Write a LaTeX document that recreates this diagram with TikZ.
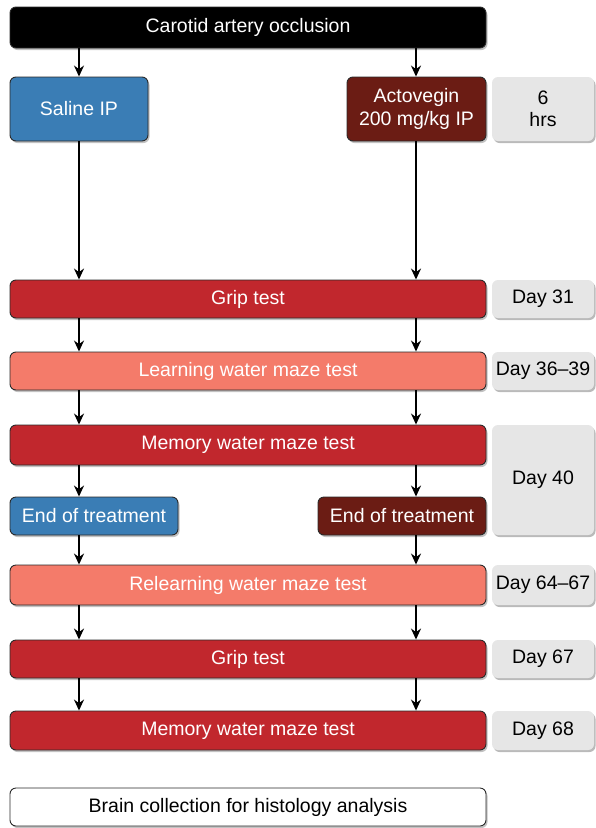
\documentclass[tikz,border=0pt]{standalone}
\usepackage{fontspec}
\setmainfont{Liberation Sans}
\usetikzlibrary{shadows,arrows.meta}
\definecolor{cblue}{HTML}{3A7DB5}
\definecolor{cbrown}{HTML}{6B1C14}
\definecolor{cred}{HTML}{C1272D}
\definecolor{csalmon}{HTML}{F47B6A}
\definecolor{cgray}{HTML}{E6E6E6}
\definecolor{cedge}{HTML}{2A2A2A}
\tikzset{
  box/.style={draw=cedge, line width=0.9pt, rounded corners=6pt, inner sep=0pt,
    font=\fontsize{19.5}{22.5}\selectfont, align=center,
    drop shadow={shadow xshift=1.5pt, shadow yshift=-2pt, opacity=0.4, fill=black!60}},
  wbox/.style={box, text=white},
  graybox/.style={rounded corners=6pt, fill=cgray, inner sep=0pt,
    font=\fontsize{19.5}{22.5}\selectfont, align=center,
    drop shadow={shadow xshift=1.5pt, shadow yshift=-2pt, opacity=0.45, fill=black!60}},
  arr/.style={-{Stealth[length=11pt,width=10pt]}, line width=1.8pt, black}
}
\begin{document}
\begin{tikzpicture}[x=1pt,y=1pt]
\useasboundingbox (0,0) rectangle (595,-828);
\coordinate (L) at (79,0);
\coordinate (R) at (416,0);
% boxes
\node[wbox, fill=black, minimum width=476pt, minimum height=41pt] (top) at (248,-27.5) {Carotid artery occlusion};
\node[wbox, fill=cblue, minimum width=138pt, minimum height=64pt] (sal) at (79,-109) {Saline IP};
\node[wbox, fill=cbrown, minimum width=139pt, minimum height=64pt] (act) at (416.5,-109) {Actovegin\\200 mg/kg IP};
\node[graybox, minimum width=102pt, minimum height=64pt] (hrs) at (543,-109) {6\\hrs};

\node[wbox, fill=cred, minimum width=476pt, minimum height=38pt] (grip) at (248,-299) {Grip test};
\node[graybox, minimum width=102pt, minimum height=38pt] (d31) at (543,-299) {Day 31};

\node[wbox, fill=csalmon, minimum width=476pt, minimum height=38pt] (learn) at (248,-371) {Learning water maze test};
\node[graybox, minimum width=102pt, minimum height=38pt] (d36) at (543,-371) {Day 36–39};

\node[wbox, fill=cred, minimum width=476pt, minimum height=40pt] (mem) at (248,-445) {Memory water maze test};
\node[wbox, fill=cblue, minimum width=168pt, minimum height=38pt] (endb) at (94,-516) {End of treatment};
\node[wbox, fill=cbrown, minimum width=168pt, minimum height=38pt] (endr) at (402,-516) {End of treatment};
\node[graybox, minimum width=102pt, minimum height=110pt] (d40) at (543,-480) {Day 40};

\node[wbox, fill=csalmon, minimum width=476pt, minimum height=40pt] (relearn) at (248,-585) {Relearning water maze test};
\node[graybox, minimum width=102pt, minimum height=40pt] (d64) at (543,-585) {Day 64–67};

\node[wbox, fill=cred, minimum width=476pt, minimum height=38pt] (grip2) at (248,-659) {Grip test};
\node[graybox, minimum width=102pt, minimum height=38pt] (d67) at (543,-659) {Day 67};

\node[wbox, fill=cred, minimum width=476pt, minimum height=39pt] (mem2) at (248,-730.5) {Memory water maze test};
\node[graybox, minimum width=102pt, minimum height=39pt] (d68) at (543,-730.5) {Day 68};

\node[box, fill=white, minimum width=476pt, minimum height=38pt] (brain) at (248,-807) {Brain collection for histology analysis};

% arrows
\draw[arr] (L |- top.south) -- (L |- sal.north);
\draw[arr] (R |- top.south) -- (R |- act.north);
\draw[arr] (L |- sal.south) -- (L |- grip.north);
\draw[arr] (R |- act.south) -- (R |- grip.north);
\draw[arr] (L |- grip.south) -- (L |- learn.north);
\draw[arr] (R |- grip.south) -- (R |- learn.north);
\draw[arr] (L |- learn.south) -- (L |- mem.north);
\draw[arr] (R |- learn.south) -- (R |- mem.north);
\draw[arr] (L |- mem.south) -- (L |- endb.north);
\draw[arr] (R |- mem.south) -- (R |- endr.north);
\draw[arr] (L |- endb.south) -- (L |- relearn.north);
\draw[arr] (R |- endr.south) -- (R |- relearn.north);
\draw[arr] (L |- relearn.south) -- (L |- grip2.north);
\draw[arr] (R |- relearn.south) -- (R |- grip2.north);
\draw[arr] (L |- grip2.south) -- (L |- mem2.north);
\draw[arr] (R |- grip2.south) -- (R |- mem2.north);
\end{tikzpicture}
\end{document}
